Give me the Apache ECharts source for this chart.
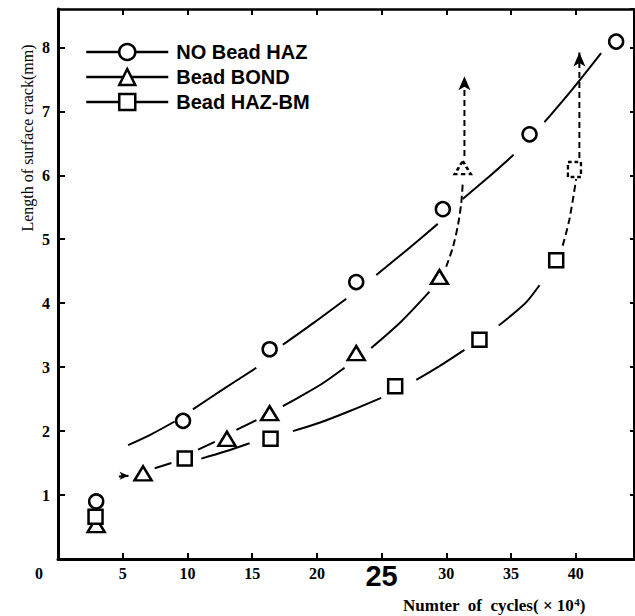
<!DOCTYPE html>
<html><head><meta charset="utf-8">
<script src="https://cdn.jsdelivr.net/npm/echarts@6/dist/echarts.min.js"></script>
<style>html,body{margin:0;padding:0;background:#fff}#c{width:635px;height:616px}</style>
</head><body><div id="c"></div>
<script>
// ---- data ----
const seriesNames = ['NO Bead HAZ', 'Bead BOND', 'Bead HAZ-BM'];
const xAxisTitle = 'Numter  of  cycles( × 10{sup|4})';
const yAxisTitle = 'Length of surface crack(mm)';

// measured points
const circleX = [2.95, 9.66, 16.35, 23.04, 29.73, 36.43, 43.12];
const circleY = [0.90, 2.16, 3.28, 4.33, 5.47, 6.64, 8.09];
const triangleX = [2.95, 6.57, 13.05, 16.35, 23.04, 29.47];
const triangleY = [0.53, 1.34, 1.88, 2.28, 3.22, 4.41];
const squareX = [2.9, 9.79, 16.42, 26.05, 32.56, 38.49];
const squareY = [0.66, 1.57, 1.88, 2.70, 3.43, 4.67];
// dashed (failure) points
const triangleFailX = [31.27];
const triangleFailY = [6.12];
const squareFailX = [39.9];
const squareFailY = [6.09];

// fitted curves, read along the drawn line pieces (null = gap in the drawn line)
const circleCurveX = [5.41, 7.2, 9.01, null, 10.42, 12.8, 15.32, null, 17.37, 19.8, 22.27, null, 24.59, 27.0, 29.34, null, 31.27, 33.2, 35.2, null, 37.58, 39.8, 41.96];
const circleCurveY = [1.78, 1.95, 2.15, null, 2.34, 2.66, 2.99, null, 3.35, 3.70, 4.07, null, 4.44, 4.84, 5.24, null, 5.63, 5.96, 6.32, null, 6.83, 7.36, 7.91];
const triangleCurveX = [7.47, 8.76, null, 10.82, 12.11, null, 13.78, 15.33, null, 17.37, 18.7, 20.4, 22.14, null, 24.2, 26.5, 28.7];
const triangleCurveY = [1.42, 1.50, null, 1.71, 1.83, null, 2.02, 2.17, null, 2.39, 2.54, 2.74, 2.99, null, 3.30, 3.71, 4.18];
const triangleDashX = [29.99, 30.5, 30.9, 31.15, 31.27];
const triangleDashY = [4.57, 4.87, 5.22, 5.56, 5.88];
const squareCurveX = [11.07, 12.9, 14.8, null, 18.15, 20.2, 22.5, 24.97, null, 27.68, 29.5, 31.4, null, 34.05, 35.2, 36.2, 37.2];
const squareCurveY = [1.57, 1.68, 1.81, null, 2.00, 2.13, 2.31, 2.52, null, 2.80, 3.02, 3.27, null, 3.65, 3.84, 4.02, 4.28];
const squareDashX = [38.99, 39.5, 40.03];
const squareDashY = [4.90, 5.30, 5.94];
// arrows
const triangleArrowX = [31.4, 31.4];
const triangleArrowY = [6.30, 7.55];
const squareArrowX = [40.28, 40.28];
const squareArrowY = [6.27, 7.92];
const startArrowX = [4.7, 5.45];
const startArrowY = [1.29, 1.30];

// ---- chart ----
const zip = (xs, ys) => xs.map((x, i) => [x, ys[i]]);
// split a null-separated list into its drawn pieces
function pieces(xs, ys) {
  const out = [[]];
  xs.forEach((x, i) => {
    if (x === null) out.push([]);
    else out[out.length - 1].push([x, ys[i]]);
  });
  return out.filter(p => p.length > 1);
}
const SERIF = '"Liberation Serif", "DejaVu Serif", serif';
const SANS = '"Liberation Sans", Arial, sans-serif';

function curves(xs, ys, dashed) {
  return pieces(xs, ys).map(p => ({
    type: 'line', data: p, smooth: 0.3, showSymbol: false, symbol: 'none',
    silent: true, z: 2, animation: false,
    lineStyle: { color: '#000', width: 2, type: dashed ? [7, 4] : 'solid' }
  }));
}
function arrow(xs, ys, rot, size, dashed) {
  return {
    type: 'line', data: zip(xs, ys), silent: true, z: 3, animation: false,
    showSymbol: true, showAllSymbol: true,
    symbol: (v, p) => (p.dataIndex === xs.length - 1 ? 'arrow' : 'none'),
    symbolSize: size, symbolRotate: rot,
    itemStyle: { color: '#000' },
    lineStyle: { color: '#000', width: 2, type: dashed ? [6, 4] : 'solid' }
  };
}
function markers(name, xs, ys, symbol, size) {
  return {
    name, type: 'line', data: zip(xs, ys), symbol, symbolSize: size,
    showSymbol: true, showAllSymbol: true, z: 4, animation: false, silent: true,
    lineStyle: { width: 0, opacity: 0 },
    itemStyle: { color: '#fff', borderColor: '#000', borderWidth: 2.5 }
  };
}
function failMarker(xs, ys, symbol, size) {
  return {
    type: 'line', data: zip(xs, ys), symbol, symbolSize: size, z: 4, silent: true, animation: false,
    showSymbol: true, showAllSymbol: true,
    lineStyle: { width: 0, opacity: 0 },
    itemStyle: { color: '#fff', opacity: 1, borderColor: '#000', borderWidth: 2.5, borderType: [4, 3] }
  };
}

const chart = echarts.init(document.getElementById('c'), null, { renderer: 'svg' });
chart.setOption({
  backgroundColor: '#fff',
  animation: false,
  grid: { left: 58, right: 1, top: 9, bottom: 57 },
  xAxis: [{
    type: 'value', min: 0, max: 44.5, interval: 5, position: 'bottom',
    axisLine: { onZero: false, lineStyle: { color: '#000', width: 3 } },
    axisTick: { inside: true, length: 6, lineStyle: { color: '#000', width: 2 } },
    splitLine: { show: false },
    axisLabel: {
      margin: 6, color: '#000', fontFamily: SERIF, fontWeight: 'bold', fontSize: 16, lineHeight: 16,
      showMaxLabel: false,
      formatter: v => v === 0 ? '{z|0}' : (v === 25 ? '{big|25}' : (v % 5 === 0 ? String(v) : '')),
      rich: {
        z: { padding: [0, 38, 0, 0], fontFamily: SERIF, fontWeight: 'bold', fontSize: 16, color: '#000', lineHeight: 16 },
        big: { fontFamily: SANS, fontWeight: 'bold', fontSize: 29, color: '#000', lineHeight: 22 }
      }
    }
  }, {
    type: 'value', min: 0, max: 44.5, interval: 5, position: 'top',
    axisLine: { onZero: false, lineStyle: { color: '#000', width: 2.5 } },
    axisTick: { inside: true, length: 6, lineStyle: { color: '#000', width: 2 } },
    axisLabel: { show: false }, splitLine: { show: false }
  }],
  yAxis: [{
    type: 'value', min: 0, max: 8.6, interval: 1, position: 'left',
    axisLine: { onZero: false, lineStyle: { color: '#000', width: 3 } },
    axisTick: { inside: true, length: 7, lineStyle: { color: '#000', width: 2 } },
    splitLine: { show: false },
    axisLabel: {
      margin: 8, color: '#000', fontFamily: SERIF, fontWeight: 'bold', fontSize: 16,
      showMaxLabel: false,
      formatter: v => (Number.isInteger(v) && v > 0 ? String(v) : '')
    }
  }, {
    type: 'value', min: 0, max: 8.6, interval: 1, position: 'right',
    axisLine: { onZero: false, lineStyle: { color: '#000', width: 2 } },
    axisTick: { inside: true, length: 4, lineStyle: { color: '#000', width: 2 } },
    axisLabel: { show: false }, splitLine: { show: false }
  }],
  legend: {
    data: seriesNames, orient: 'vertical', left: 80, top: 37,
    itemWidth: 82, itemHeight: 20, itemGap: 5, selectedMode: false,
    textStyle: { fontFamily: SANS, fontWeight: 'bold', fontSize: 20, color: '#000', lineHeight: 20, padding: [0, 0, 0, 3] },
    lineStyle: { color: '#000', width: 2.5, opacity: 1, type: 'solid' },
    itemStyle: { color: '#fff', borderColor: '#000', borderWidth: 2.5 }
  },
  graphic: [{
    type: 'text', x: 27, y: 138, rotation: Math.PI / 2,
    style: { text: yAxisTitle, fontFamily: SERIF, fontSize: 16, fill: '#000', align: 'center', verticalAlign: 'middle' }
  }, {
    type: 'text', x: 403, y: 605,
    style: {
      text: xAxisTitle, fontFamily: SERIF, fontWeight: 'bold', fontSize: 17, lineHeight: 18, fill: '#000',
      align: 'left', verticalAlign: 'middle',
      rich: { sup: { fontFamily: SERIF, fontWeight: 'bold', fontSize: 11, fill: '#000', verticalAlign: 'top', lineHeight: 18 } }
    }
  }],
  series: [
    ...curves(circleCurveX, circleCurveY, false),
    ...curves(triangleCurveX, triangleCurveY, false),
    ...curves(triangleDashX, triangleDashY, true),
    ...curves(squareCurveX, squareCurveY, false),
    ...curves(squareDashX, squareDashY, true),
    arrow(triangleArrowX, triangleArrowY, 0, [9, 14], true),
    arrow(squareArrowX, squareArrowY, 0, [9, 14], true),
    arrow(startArrowX, startArrowY, -90, [6, 9], false),
    markers(seriesNames[0], circleX, circleY, 'circle', 14),
    markers(seriesNames[1], triangleX, triangleY, 'triangle', [17, 14]),
    markers(seriesNames[2], squareX, squareY, 'rect', 14),
    failMarker(triangleFailX, triangleFailY, 'triangle', [16, 13]),
    failMarker(squareFailX, squareFailY, 'rect', [13, 15])
  ]
});
</script></body></html>
